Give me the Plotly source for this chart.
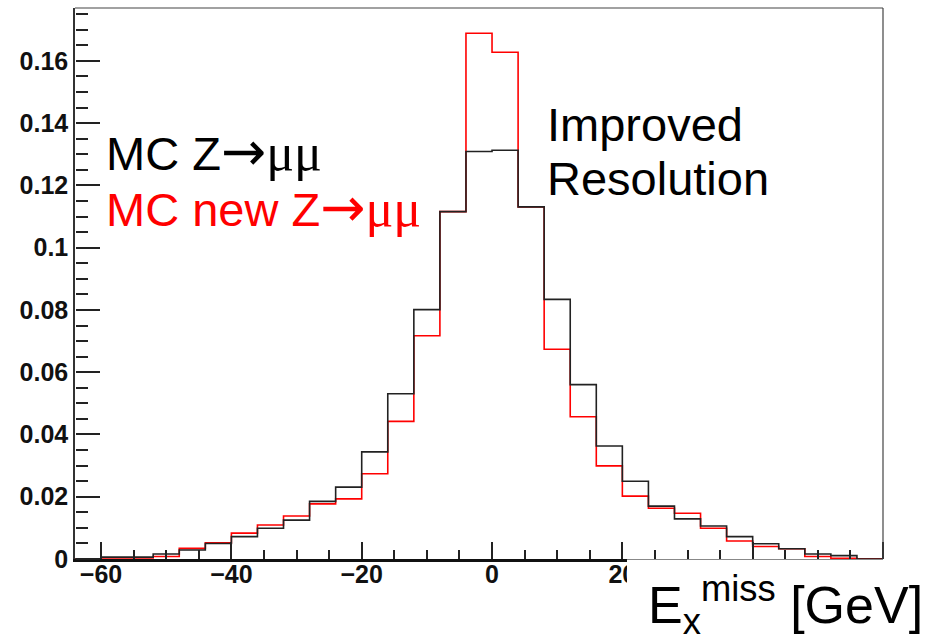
import numpy as np
import plotly.graph_objects as go

# Bin lower edges (GeV), width 4, from -64 to 60
bin_edges = list(range(-64, 61, 4))

# Normalised entries per bin, MC Z->mumu (black)
mc_old = [0.0000, 0.0006, 0.0006, 0.0016, 0.0029, 0.0050, 0.0072, 0.0099,
          0.0125, 0.0185, 0.0231, 0.0344, 0.0531, 0.0801, 0.1116, 0.1309,
          0.1313, 0.1131, 0.0834, 0.0560, 0.0363, 0.0250, 0.0170, 0.0129,
          0.0106, 0.0072, 0.0049, 0.0033, 0.0016, 0.0011, 0.0000]

# MC new Z->mumu (red)
mc_new = [0.0000, 0.0003, 0.0003, 0.0008, 0.0034, 0.0052, 0.0083, 0.0109,
          0.0138, 0.0177, 0.0193, 0.0274, 0.0442, 0.0717, 0.1116, 0.1689,
          0.1628, 0.1131, 0.0674, 0.0457, 0.0299, 0.0202, 0.0163, 0.0147,
          0.0099, 0.0058, 0.0040, 0.0033, 0.0008, 0.0002, 0.0001]

x_ticks = [-60, -40, -20, 0, 20, 40, 60]
x_range = [-64, 60]
y_range = [0, 0.177]

W, H = 941, 636
L, R, T, B = 75, 58, 8, 77
pw, ph = W - L - R, H - T - B


def px2paper_x(px):
    return (px - L) / pw


def px2paper_y(py):
    return (H - B - py) / ph


fig = go.Figure()
for vals, col in [(mc_new, "#ff0000"), (mc_old, "#222222")]:
    fig.add_trace(go.Scatter(
        x=bin_edges, y=vals + [vals[-1]], mode="lines",
        line=dict(shape="hv", color=col, width=1.6),
        showlegend=False, hoverinfo="skip"))

# invisible copy on the tick-only axes so that those axes get drawn
fig.add_trace(go.Scatter(
    x=bin_edges, y=mc_old + [mc_old[-1]], mode="lines", xaxis="x2", yaxis="y2",
    line=dict(shape="hv", color="rgba(0,0,0,0)", width=0), opacity=0,
    showlegend=False, hoverinfo="skip"))

tickfont = dict(family="Liberation Sans, Arial", size=25, color="#111111", weight="bold")
tk = dict(tickwidth=1.5, tickcolor="#222222")

fig.update_layout(
    width=W, height=H,
    margin=dict(l=L, r=R, t=T, b=B),
    paper_bgcolor="white", plot_bgcolor="white",
    # label axes (bottom / left)
    xaxis=dict(range=x_range, tickmode="array", tickvals=x_ticks, ticks="",
               showline=True, linecolor="#111111", linewidth=2.5,
               showgrid=False, zeroline=False, tickfont=tickfont,
               ticklabelstandoff=-9),
    yaxis=dict(range=y_range, tickmode="linear", tick0=0, dtick=0.02, ticks="",
               showline=True, linecolor="#333333", linewidth=1.5,
               showgrid=False, zeroline=False, tickfont=tickfont),
    # tick axes placed on the frame edges with ticks pointing into the frame
    xaxis2=dict(overlaying="x", side="top", anchor="free", position=0,
                range=x_range, tickmode="array", tickvals=x_ticks,
                ticks="outside", ticklen=17, showticklabels=False,
                showline=False, showgrid=False, zeroline=False,
                minor=dict(dtick=5, tick0=0, ticks="outside", ticklen=9, **tk),
                **tk),
    yaxis2=dict(overlaying="y", side="right", anchor="free", position=0,
                range=y_range, tickmode="linear", tick0=0, dtick=0.02,
                ticks="outside", ticklen=24, showticklabels=False,
                showline=False, showgrid=False, zeroline=False,
                minor=dict(dtick=0.005, tick0=0, ticks="outside", ticklen=12, **tk),
                **tk),
)

# Frame (top and right thin lines)
fig.add_shape(type="line", xref="paper", yref="paper", x0=0, x1=1, y0=1, y1=1,
              line=dict(color="#444", width=1.2))
fig.add_shape(type="line", xref="paper", yref="paper", x0=1, x1=1, y0=0, y1=1,
              line=dict(color="#444", width=1.2))

# White box behind the axis title, hiding part of the axis
fig.add_shape(type="rect", xref="paper", yref="paper", layer="above",
              x0=px2paper_x(627), x1=px2paper_x(960),
              y0=px2paper_y(700), y1=px2paper_y(559.5),
              fillcolor="white", line=dict(width=0))

serif = "font-family:'Liberation Serif','Times New Roman',serif;font-size:52px"
arrowf = "font-family:'DejaVu Sans',sans-serif;font-size:54px"
sans = "Liberation Sans, Arial, sans-serif"

fig.add_annotation(xref="paper", yref="paper", x=px2paper_x(104), y=px2paper_y(151),
                   xanchor="left", yanchor="middle", showarrow=False,
                   text=f"MC Z<span style=\"{arrowf}\">→</span><span style=\"{serif}\">μμ</span>",
                   font=dict(family=sans, size=47, color="black"))
fig.add_annotation(xref="paper", yref="paper", x=px2paper_x(104), y=px2paper_y(207),
                   xanchor="left", yanchor="middle", showarrow=False,
                   text=f"MC new Z<span style=\"{arrowf}\">→</span><span style=\"{serif}\">μμ</span>",
                   font=dict(family=sans, size=47, color="#ff0000"))
fig.add_annotation(xref="paper", yref="paper", x=px2paper_x(545), y=px2paper_y(124),
                   xanchor="left", yanchor="middle", showarrow=False,
                   text="Improved", font=dict(family=sans, size=47, color="black"))
fig.add_annotation(xref="paper", yref="paper", x=px2paper_x(545), y=px2paper_y(179),
                   xanchor="left", yanchor="middle", showarrow=False,
                   text="Resolution", font=dict(family=sans, size=47, color="black"))

fig.add_annotation(xref="paper", yref="paper", x=px2paper_x(925), y=px2paper_y(605),
                   xanchor="right", yanchor="middle", showarrow=False,
                   text="E<sub>x</sub><sup>miss</sup> [GeV]",
                   font=dict(family=sans, size=52, color="black"))

fig.write_html("out.html")
